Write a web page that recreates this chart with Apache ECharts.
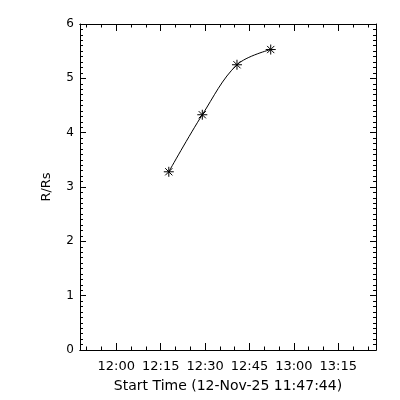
<!DOCTYPE html>
<html>
<head>
<meta charset="utf-8">
<script src="https://cdn.jsdelivr.net/npm/echarts@6/dist/echarts.min.js"></script>
<style>html,body{margin:0;padding:0;background:#fff;}#c{width:400px;height:400px;}</style>
</head>
<body>
<div id="c"></div>
<script>
// Data (times of observation, height in solar radii)
const startTime = "11:47:44";
const obsTimes = ["12:17:44", "12:29:03", "12:40:46", "12:52:10"];
const heights = [3.28, 4.33, 5.25, 5.53];
const xTickLabels = ["12:00", "12:15", "12:30", "12:45", "13:00", "13:15"];
const xTitle = "Start Time (12-Nov-25 11:47:44)";
const yTitle = "R/Rs";

function toSec(s){const p=s.split(":").map(Number);return p[0]*3600+p[1]*60+(p[2]||0);}
const t0 = toSec(startTime);
const xMin = 0, xMax = 6000;
const majorVals = xTickLabels.map(l => toSec(l) - t0);
const minorVals = [];
for (let m = 11*60+50; m*60 - t0 <= xMax; m += 5) {
  const v = m*60 - t0;
  if (v >= xMin && !majorVals.includes(v)) minorVals.push(v);
}
const seriesData = obsTimes.map((t,i) => [toSec(t) - t0, heights[i]]);

const font = 'DejaVu Sans';
const baseX = {type:'value', min:xMin, max:xMax, gridIndex:0, splitLine:{show:false},
  axisLine:{show:true, onZero:false, lineStyle:{color:'#000', width:1}}};
const chart = echarts.init(document.getElementById('c'), null, {renderer:'canvas'});
chart.setOption({
  animation:false,
  backgroundColor:'#fff',
  grid:{left:80, right:24, top:24, bottom:50, containLabel:false},
  xAxis:[
    Object.assign({}, baseX, {position:'bottom',
      axisTick:{show:true, inside:true, length:7, customValues:majorVals, lineStyle:{color:'#000'}},
      axisLabel:{show:true, customValues:majorVals, color:'#000', fontFamily:font, fontSize:13, margin:10,
        formatter:(v)=>{const i=majorVals.indexOf(v);return i>=0?xTickLabels[i]:'';}},
      name:xTitle, nameLocation:'middle', nameGap:29,
      nameTextStyle:{color:'#000', fontFamily:font, fontSize:14}}),
    Object.assign({}, baseX, {position:'bottom',
      axisTick:{show:true, inside:true, length:3.5, customValues:minorVals, lineStyle:{color:'#000'}},
      axisLabel:{show:false}}),
    Object.assign({}, baseX, {position:'top',
      axisTick:{show:true, inside:true, length:7, customValues:majorVals, lineStyle:{color:'#000'}},
      axisLabel:{show:false}}),
    Object.assign({}, baseX, {position:'top',
      axisTick:{show:true, inside:true, length:3.5, customValues:minorVals, lineStyle:{color:'#000'}},
      axisLabel:{show:false}})
  ],
  yAxis:[
    {type:'value', min:0, max:6, interval:1, position:'left', splitLine:{show:false},
     axisLine:{show:true, onZero:false, lineStyle:{color:'#000'}},
     axisTick:{show:true, inside:true, length:6, lineStyle:{color:'#000'}},
     minorTick:{show:true, splitNumber:10, length:3, lineStyle:{color:'#000'}},
     minorSplitLine:{show:false},
     axisLabel:{color:'#000', fontFamily:font, fontSize:12, margin:6},
     name:yTitle, nameLocation:'middle', nameGap:27, nameRotate:90,
     nameTextStyle:{color:'#000', fontFamily:font, fontSize:13}},
    {type:'value', min:0, max:6, interval:1, position:'right', splitLine:{show:false},
     axisLine:{show:true, onZero:false, lineStyle:{color:'#000'}},
     axisTick:{show:true, inside:true, length:6, lineStyle:{color:'#000'}},
     minorTick:{show:true, splitNumber:10, length:3, lineStyle:{color:'#000'}},
     axisLabel:{show:false}}
  ],
  series:[{
    type:'line', xAxisIndex:0, yAxisIndex:0, data:seriesData, smooth:0.35,
    lineStyle:{color:'#000', width:1},
    symbol:'path://M0,-5L0,5M-5,0L5,0M-3.6,-3.6L3.6,3.6M-3.6,3.6L3.6,-3.6',
    symbolSize:10,
    itemStyle:{color:'#000', borderColor:'#000', borderWidth:1},
    emphasis:{disabled:true}
  }]
});
</script>
</body>
</html>
